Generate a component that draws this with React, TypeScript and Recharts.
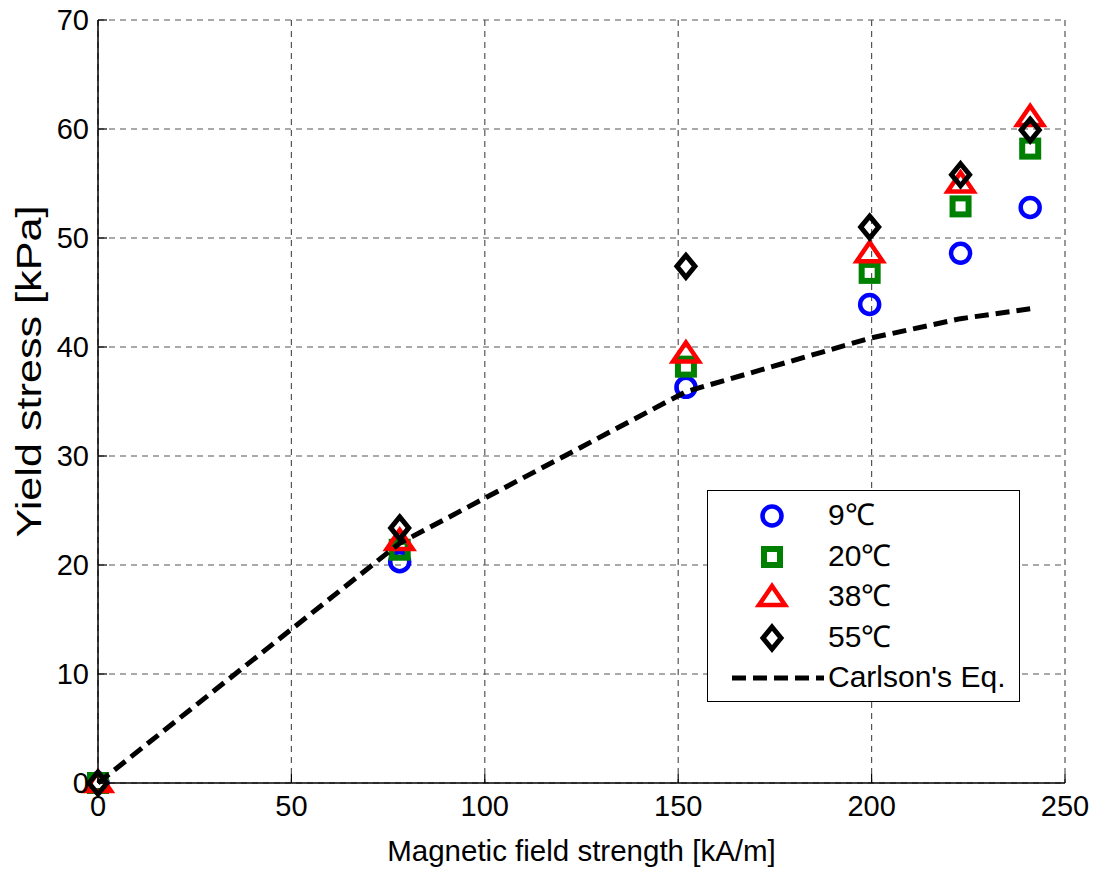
import React from 'react';
import { ScatterChart, Scatter, XAxis, YAxis, CartesianGrid } from 'recharts';

const W = 1099;
const H = 871;
const FONT = 'Arial, "Liberation Sans", Helvetica, sans-serif';

// magnetic field strength [kA/m]
const fieldStrength = [0, 78, 152, 199.5, 223, 241];
// yield stress [kPa] per temperature
const stress9 = [0, 20.3, 36.3, 43.9, 48.6, 52.8];
const stress20 = [0, 21.4, 38.2, 46.8, 52.9, 58.2];
const stress38 = [0, 22.2, 39.4, 48.6, 55.0, 61.1];
const stress55 = [0, 23.4, 47.4, 51.0, 55.8, 59.9];
const carlsonFit = [0, 22.0, 35.9, 40.8, 42.6, 43.5];

const xTicks = [0, 50, 100, 150, 200, 250];
const yTicks = [0, 10, 20, 30, 40, 50, 60, 70];

const toPoints = (ys: number[]) => fieldStrength.map((x, i) => ({ x, y: ys[i] }));

const Circle = ({ cx, cy }: any) => (
  <circle cx={cx} cy={cy} r={9.5} fill="none" stroke="#0000ff" strokeWidth={4.5} />
);
const Square = ({ cx, cy }: any) => (
  <rect x={cx - 8} y={cy - 8} width={16} height={16} fill="none" stroke="#008000" strokeWidth={6} />
);
const Triangle = ({ cx, cy }: any) => (
  <polygon
    points={`${cx},${cy - 11} ${cx + 13},${cy + 8} ${cx - 13},${cy + 8}`}
    fill="none"
    stroke="#ff0000"
    strokeWidth={4.5}
  />
);
const Diamond = ({ cx, cy }: any) => (
  <polygon
    points={`${cx},${cy - 11} ${cx + 9},${cy} ${cx},${cy + 11} ${cx - 9},${cy}`}
    fill="none"
    stroke="#000"
    strokeWidth={5}
  />
);
const NoMark = () => null;

// tick labels with short inward tick marks, matlab style
const BottomTick = ({ x, y, payload }: any) => (
  <g>
    <line x1={x} y1={y - 10} x2={x} y2={y - 19} stroke="#000" strokeWidth={1.2} />
    <text x={x} y={y} dy="0.8em" textAnchor="middle" fontSize={29} fontFamily={FONT} fill="#000">
      {payload.value}
    </text>
  </g>
);
const LeftTick = ({ x, y, payload }: any) => (
  <g>
    <line x1={x + 9} y1={y} x2={x + 18} y2={y} stroke="#000" strokeWidth={1.2} />
    <text x={x} y={y} dy="0.36em" textAnchor="end" fontSize={29} fontFamily={FONT} fill="#000">
      {payload.value}
    </text>
  </g>
);
const TopTick = ({ x, y }: any) => <line x1={x} y1={y} x2={x} y2={y + 9} stroke="#000" strokeWidth={1.2} />;
const RightTick = ({ x, y }: any) => <line x1={x} y1={y} x2={x - 9} y2={y} stroke="#000" strokeWidth={1.2} />;

const legendRows = [
  { label: '9℃', Mark: Circle },
  { label: '20℃', Mark: Square },
  { label: '38℃', Mark: Triangle },
  { label: '55℃', Mark: Diamond },
];

const LegendBox = () => (
  <div
    style={{
      position: 'absolute',
      left: 707,
      top: 490,
      width: 313,
      height: 212,
      border: '1.5px solid #000',
      boxSizing: 'border-box',
      background: '#fff',
      fontFamily: FONT,
      fontSize: 30,
      color: '#000',
    }}
  >
    {legendRows.map((r, i) => (
      <div key={r.label} style={{ position: 'absolute', left: 0, top: 5 + i * 40.5, height: 40, width: '100%' }}>
        <svg width={100} height={40} style={{ position: 'absolute', left: 14, top: 0 }}>
          <r.Mark cx={50} cy={20} />
        </svg>
        <span style={{ position: 'absolute', left: 120, top: 2, lineHeight: '34px' }}>{r.label}</span>
      </div>
    ))}
    <div style={{ position: 'absolute', left: 0, top: 5 + 4 * 40.5, height: 40, width: '100%' }}>
      <svg width={110} height={40} style={{ position: 'absolute', left: 24, top: 0 }}>
        <line x1={0} y1={20} x2={92} y2={20} stroke="#000" strokeWidth={5} strokeDasharray="14 7" />
      </svg>
      <span style={{ position: 'absolute', left: 120, top: 2, lineHeight: '34px' }}>Carlson's Eq.</span>
    </div>
  </div>
);

const YLabel = ({ viewBox }: any) => {
  const cy = viewBox.y + viewBox.height / 2 - 30;
  return (
    <text
      x={0}
      y={0}
      transform={`translate(28, ${cy}) rotate(-90) scale(1.2, 1)`}
      textAnchor="middle"
      dominantBaseline="central"
      fontSize={36}
      fontFamily={FONT}
      fill="#000"
    >
      Yield stress [kPa]
    </text>
  );
};

export default function App() {
  return (
    <div style={{ position: 'absolute', left: 0, top: 0, width: W, height: H, background: '#fff' }}>
      <ScatterChart width={W} height={H} margin={{ top: 20, right: 34, bottom: 0, left: 0 }}>
        <CartesianGrid stroke="#555" strokeDasharray="6 5" strokeWidth={1.2} />
        <XAxis
          dataKey="x"
          type="number"
          domain={[0, 250]}
          ticks={xTicks}
          height={88}
          tickSize={0}
          tickMargin={10}
          axisLine={{ stroke: '#000', strokeWidth: 1.5 }}
          tick={<BottomTick />}
          label={{
            value: 'Magnetic field strength [kA/m]',
            position: 'insideBottom',
            offset: 10,
            fill: '#000',
            fontSize: 29.5,
            fontFamily: FONT,
          }}
        />
        <XAxis
          xAxisId="top"
          orientation="top"
          type="number"
          domain={[0, 250]}
          ticks={xTicks}
          height={0}
          tickSize={0}
          tickMargin={0}
          tick={<TopTick />}
          axisLine={{ stroke: '#000', strokeWidth: 1.5 }}
        />
        <YAxis
          dataKey="y"
          type="number"
          domain={[0, 70]}
          ticks={yTicks}
          width={98}
          tickSize={0}
          tickMargin={9}
          axisLine={{ stroke: '#000', strokeWidth: 1.5 }}
          tick={<LeftTick />}
          label={<YLabel />}
        />
        <YAxis
          yAxisId="right"
          orientation="right"
          type="number"
          domain={[0, 70]}
          ticks={yTicks}
          width={0}
          tickSize={0}
          tickMargin={0}
          tick={<RightTick />}
          axisLine={{ stroke: '#000', strokeWidth: 1.5 }}
        />
        <Scatter name="9℃" data={toPoints(stress9)} shape={Circle} isAnimationActive={false} />
        <Scatter name="20℃" data={toPoints(stress20)} shape={Square} isAnimationActive={false} />
        <Scatter name="38℃" data={toPoints(stress38)} shape={Triangle} isAnimationActive={false} />
        <Scatter name="55℃" data={toPoints(stress55)} shape={Diamond} isAnimationActive={false} />
        <Scatter
          name="Carlson's Eq."
          data={toPoints(carlsonFit)}
          shape={NoMark}
          line={{ stroke: '#000', strokeWidth: 5, strokeDasharray: '14 7' }}
          isAnimationActive={false}
        />
      </ScatterChart>
      <LegendBox />
    </div>
  );
}
